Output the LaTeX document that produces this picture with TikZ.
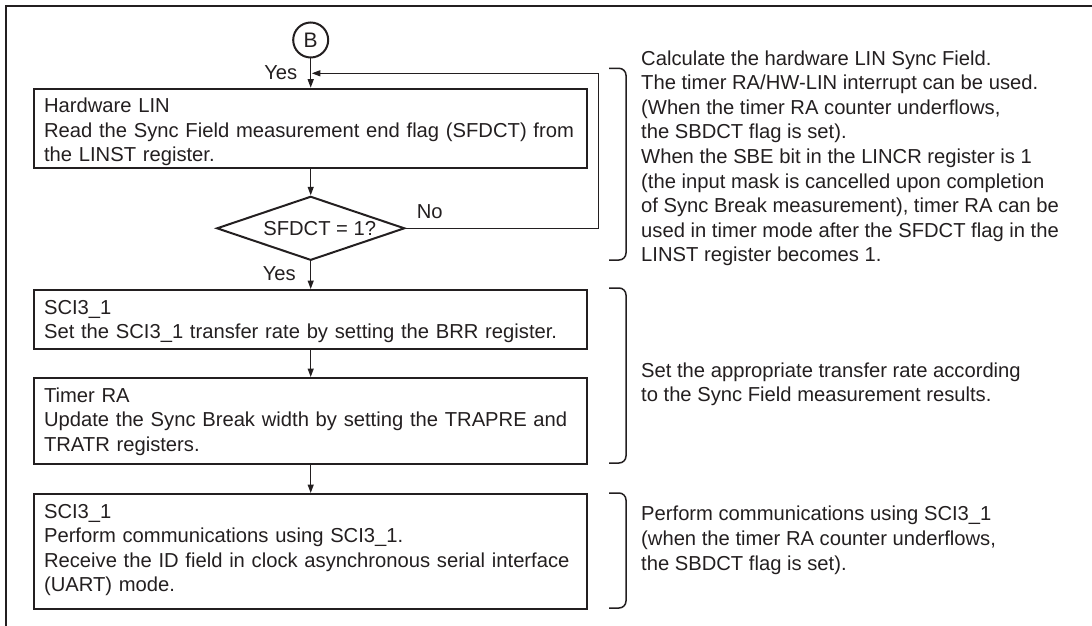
\documentclass[tikz,border=0pt]{standalone}
\usepackage{fontspec}
\setmainfont{Liberation Sans}
\usetikzlibrary{shapes.geometric,arrows.meta}
\definecolor{ink}{HTML}{231F20}
\tikzset{
  txt/.style={font=\fontsize{20.2}{24.6}\selectfont, text=ink},
  procbox/.style={txt, draw=ink, line width=2pt, minimum width=552.7pt, text width=533.3pt,
    inner xsep=9.7pt, inner ysep=0pt, align=left, anchor=north, text height=24pt},
  decision/.style={draw=ink, diamond, line width=2pt, minimum width=188pt,
    minimum height=64pt, inner sep=0pt},
  connector/.style={draw=ink, circle, line width=2pt, minimum size=35pt, inner sep=0pt,
    text=ink, font=\fontsize{21}{24}\selectfont},
  flow/.style={draw=ink, line width=1.2pt, -{Triangle[length=8.5pt,width=6pt]}},
  loopline/.style={draw=ink, line width=1pt, -{Triangle[length=8.5pt,width=6pt]}},
  bracket/.style={draw=ink, line width=1.5pt, rounded corners=7pt},
  note/.style={txt, anchor=north west, inner sep=0pt, align=left},
  lbl/.style={txt, inner sep=0pt}
}
\begin{document}
\begin{tikzpicture}[x=1pt,y=-1pt]
\useasboundingbox (0,0) rectangle (1092,626);
% frame (open crop)
\draw[draw=ink, line width=2.3pt] (6,626) -- (6,6) -- (1092,6);

% flow nodes
\node[connector] (B) at (310.7,40) {B};
\node[procbox, text depth=55.6pt] (b1) at (310.7,87.7)
  {Hardware LIN\\Read the Sync Field measurement end flag (SFDCT) from\\the LINST register.};
\node[decision] (d) at (310.7,228.3) {};
\node[lbl] (dl) at ([xshift=9pt]d.center) {SFDCT = 1?};
\node[procbox, text depth=35pt] (b2) at (310.7,289)
  {SCI3\_1\\Set the SCI3\_1 transfer rate by setting the BRR register.};
\node[procbox, text depth=62pt] (b3) at (310.7,377)
  {Timer RA\\Update the Sync Break width by setting the TRAPRE and\\TRATR registers.};
\node[procbox, text depth=91pt] (b4) at (310.7,493)
  {SCI3\_1\\Perform communications using SCI3\_1.\\Receive the ID field in clock asynchronous serial interface\\(UART) mode.};

% labels
\node[lbl, anchor=base east] (yes1) at (297.5,80) {Yes};
\node[lbl, anchor=base east] (yes2) at (296,280) {Yes};
\node[lbl, anchor=base west] (no) at (416.7,218.3) {No};

% connectors
\draw[flow] (B) -- (b1);
\draw[flow] (b1) -- (d);
\draw[flow] (d) -- (b2);
\draw[flow] (b2) -- (b3);
\draw[flow] (b3) -- (b4);
\coordinate (loopin) at (311.8,73.3);
\coordinate (loopcorner) at (598,228.3);
\draw[loopline] (d.east) -- (loopcorner) |- (loopin);

% brackets
\draw[bracket] (609,68.3) -- (626,68.3) -- (626,260) -- (609,260);
\draw[bracket] (609,288) -- (626,288) -- (626,463) -- (609,463);
\draw[bracket] (609,493) -- (626,493) -- (626,608) -- (609,608);

% notes
\node[note] (n1) at (641,50.3) {Calculate the hardware LIN Sync Field.\\
The timer RA/HW-LIN interrupt can be used.\\
(When the timer RA counter underflows,\\
the SBDCT flag is set).\\
When the SBE bit in the LINCR register is 1\\
(the input mask is cancelled upon completion\\
of Sync Break measurement), timer RA can be\\
used in timer mode after the SFDCT flag in the\\
LINST register becomes 1.};
\node[note] (n2) at (641,362.5) {Set the appropriate transfer rate according\\
to the Sync Field measurement results.};
\node[note] (n3) at (641,506) {Perform communications using SCI3\_1\\
(when the timer RA counter underflows,\\
the SBDCT flag is set).};
\end{tikzpicture}
\end{document}
